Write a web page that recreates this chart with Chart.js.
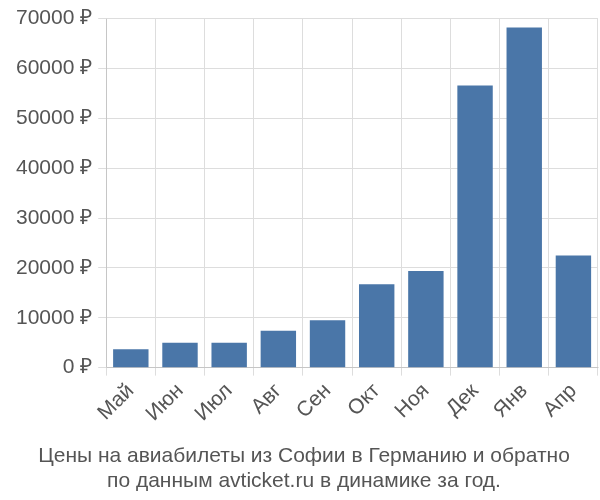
<!DOCTYPE html>
<html>
<head>
<meta charset="utf-8">
<script src="https://cdn.jsdelivr.net/npm/chart.js@4"></script>
<style>
body { margin: 0; background: #fff; }
#wrap { width: 600px; height: 500px; }
</style>
</head>
<body>
<div id="wrap"><canvas id="c"></canvas></div>
<script>
var months = ['Май', 'Июн', 'Июл', 'Авг', 'Сен', 'Окт', 'Ноя', 'Дек', 'Янв', 'Апр'];
var prices = [3700, 5000, 5000, 7400, 9500, 16700, 19400, 56600, 68200, 22500];
var titleLines = ['Цены на авиабилеты из Софии в Германию и обратно', 'по данным avticket.ru в динамике за год.'];

new Chart(document.getElementById('c'), {
	type: 'bar',
	data: {
		labels: months,
		datasets: [
			{
				data: prices,
				backgroundColor: '#4a76a8',
				barPercentage: 0.72,
				categoryPercentage: 1
			}
		]
	},
	options: {
		responsive: true,
		maintainAspectRatio: false,
		animation: false,
		layout: {
			padding: { left: 10, right: 2, top: 6, bottom: 0 }
		},
		plugins: {
			legend: { display: false },
			title: {
				display: true,
				position: 'bottom',
				text: titleLines,
				color: '#555',
				font: { family: 'Liberation Sans', size: 21, weight: 'normal' },
				padding: { top: 14, bottom: 6 }
			}
		},
		scales: {
			x: {
				grid: { color: '#ddd', offset: true },
				ticks: {
					color: '#555',
					maxRotation: 45,
					minRotation: 45,
					font: { family: 'Liberation Sans', size: 21 }
				}
			},
			y: {
				min: 0,
				max: 70000,
				grid: { color: '#ddd' },
				ticks: {
					stepSize: 10000,
					color: '#555',
					padding: 6,
					font: { family: 'Liberation Sans', size: 21 },
					callback: function(v) { return v + ' ₽'; }
				}
			}
		}
	}
});
</script>
</body>
</html>
